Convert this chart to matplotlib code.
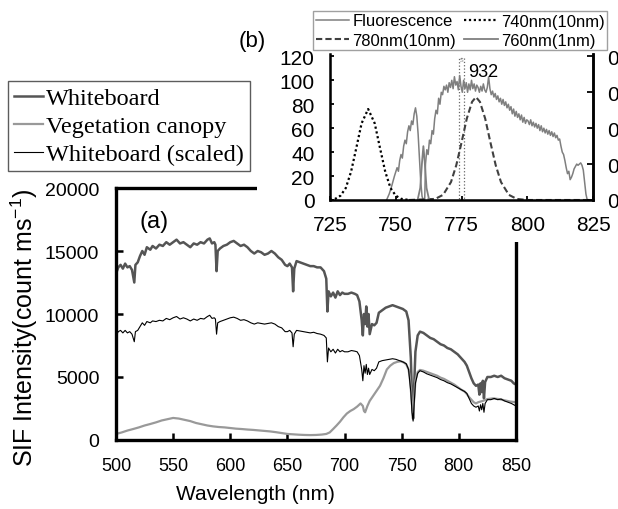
import matplotlib
matplotlib.use("Agg")
import matplotlib.pyplot as plt
from matplotlib.patches import Rectangle
import numpy as np

plt.rcParams['font.family'] = ['Liberation Sans', 'DejaVu Sans']
plt.rcParams['mathtext.default'] = 'regular'

# ---- main panel (a) data ----
wb_wl = [500, 502, 504, 506, 508, 510, 512, 514, 516, 517, 519, 521, 523, 525, 527, 530, 532, 535, 538, 541,
         544, 547, 550, 553, 556, 559, 562, 565, 568, 571, 574, 577, 580, 582, 584, 586, 587, 588, 589, 591,
         594, 597, 600, 603, 606, 609, 612, 615, 618, 621, 624, 627, 630, 633, 636, 639, 642, 645, 648, 650,
         652, 654, 655, 656, 658, 661, 664, 667, 670, 673, 676, 679, 682, 684, 685, 686, 688, 690, 692, 694,
         696, 698, 700, 703, 706, 709, 711, 713, 715, 716, 717, 718, 719, 720, 721, 722, 724, 726, 728, 730,
         733, 736, 739, 742, 745, 748, 751, 754, 756, 758, 759, 760, 761, 762, 764, 766, 769, 772, 775, 778,
         781, 784, 787, 790, 793, 796, 799, 802, 805, 807, 809, 811, 813, 815, 817, 818, 819, 820, 821, 822,
         823, 825, 828, 831, 834, 837, 840, 843, 846, 848, 850]
whiteboard = [13200, 13700, 13900, 13600, 14000, 13700, 13800, 13500, 12500, 13900, 14100, 14600, 15000, 14700,
              15300, 15100, 15400, 15200, 15500, 15400, 15700, 15500, 15700, 15900, 15600, 15700, 15500, 15300,
              15600, 15500, 15700, 15600, 15900, 16000, 15600, 15700, 15500, 13400, 15000, 15200, 15400, 15500,
              15700, 15800, 15600, 15400, 15500, 15300, 15000, 14800, 15000, 14900, 14700, 14800, 15000, 14800,
              14500, 14300, 13900, 13800, 14000, 13700, 11800, 13600, 14200, 14100, 14000, 13900, 13800, 13800,
              13700, 13700, 13400, 12800, 10200, 11800, 11400, 11700, 11300, 11800, 11500, 11700, 11600, 11600,
              11700, 11600, 11500, 11000, 9500, 8300, 10000, 9200, 10600, 9000, 10000, 8400, 9200, 9100, 9300,
              10100, 10300, 10500, 10600, 10700, 10600, 10500, 10400, 10200, 9500, 6500, 3500, 1700, 4500, 7000,
              8300, 8600, 8500, 8300, 8100, 8000, 7800, 7600, 7500, 7300, 7200, 7000, 6800, 6500, 6200, 5900,
              5400, 4900, 4500, 4300, 4400, 3600, 4500, 3800, 4700, 3300, 4600, 5000, 5000, 5100, 5000, 5100,
              4900, 4800, 4700, 4500, 4400]
whiteboard_scaled = [8260, 8600, 8700, 8500, 8700, 8500, 8600, 8400, 7800, 8600, 8700, 9000, 9300, 9100, 9400,
                     9300, 9450, 9400, 9500, 9450, 9650, 9550, 9700, 9800, 9600, 9700, 9600, 9450, 9600, 9500,
                     9650, 9600, 9800, 9900, 9650, 9700, 9600, 8400, 9300, 9400, 9500, 9600, 9700, 9750, 9650,
                     9500, 9550, 9450, 9300, 9200, 9300, 9250, 9200, 9250, 9300, 9200, 9000, 8900, 8600, 8600,
                     8700, 8500, 7400, 8400, 8700, 8650, 8600, 8550, 8500, 8550, 8450, 8400, 8300, 8100, 6200,
                     7300, 7000, 7200, 6900, 7200, 7000, 7100, 7000, 7000, 7100, 7050, 7000, 6700, 5600, 4700,
                     5900, 5300, 6000, 5200, 5700, 5200, 5600, 5500, 5700, 6200, 6300, 6350, 6400, 6450, 6400,
                     6300, 6200, 6050, 5600, 3800, 2200, 1500, 3000, 4500, 5300, 5500, 5400, 5250, 5150, 5050,
                     4950, 4800, 4700, 4550, 4450, 4300, 4150, 4000, 3850, 3700, 3300, 2900, 2700, 2600, 2700,
                     2300, 2800, 2400, 2900, 2200, 2900, 3200, 3200, 3300, 3200, 3250, 3100, 3000, 2900, 2800, 2700]
veg_wl = [500, 505, 510, 515, 520, 525, 530, 535, 540, 545, 550, 555, 560, 565, 570, 575, 580, 585, 590, 595,
          600, 605, 610, 615, 620, 625, 630, 635, 640, 645, 650, 655, 660, 665, 670, 675, 680, 684, 687, 690,
          693, 696, 699, 702, 705, 708, 711, 714, 716, 717, 718, 720, 722, 725, 728, 731, 734, 737, 740, 743,
          746, 749, 752, 754, 756, 757, 758, 759, 760, 761, 762, 764, 766, 769, 772, 775, 778, 781, 784, 787,
          790, 793, 796, 799, 802, 805, 807, 809, 811, 813, 815, 817, 819, 821, 825, 830, 835, 840, 845, 850]
vegetation = [480, 600, 750, 870, 1000, 1150, 1270, 1400, 1550, 1650, 1750, 1700, 1600, 1500, 1350, 1250, 1150,
              1080, 1030, 1000, 950, 900, 870, 830, 800, 760, 720, 680, 620, 550, 480, 450, 420, 400, 390, 400,
              430, 480, 600, 870, 1150, 1450, 1800, 2100, 2300, 2450, 2650, 2900, 2700, 2300, 2200, 2700, 3100,
              3500, 3900, 4300, 4900, 5600, 5900, 6100, 6200, 6250, 6150, 6000, 5600, 5000, 4000, 2800, 2200,
              3300, 4700, 5400, 5560, 5500, 5400, 5300, 5200, 5100, 4950, 4850, 4700, 4550, 4400, 4200, 4000,
              3850, 3650, 3400, 3200, 3000, 2900, 3000, 3050, 3100, 3250, 3300, 3250, 3150, 3050, 3000]

# ---- inset (b) data ----
fl_wl = [746.5, 747.5, 748.5, 749.5, 750.5, 751.0, 751.5, 752.0, 752.5, 753.0,
         753.5, 754.0, 754.5, 755.0, 755.5, 756.0, 756.5, 757.0, 757.5, 758.0,
         758.5, 759.0, 759.5, 760.0, 760.5, 761.0, 761.3, 761.8, 762.3, 762.8,
         763.3, 763.8, 764.3, 764.8, 765.3, 765.8, 766.3, 766.8, 767.3, 767.8,
         768.3, 768.8, 769.3, 769.8, 770.3, 770.8, 771.3, 771.8, 772.3, 772.8,
         773.3, 773.8, 774.3, 774.8, 775.3, 775.8, 776.3, 776.8, 777.3, 777.8,
         778.3, 778.8, 779.3, 779.8, 780.3, 780.8, 781.3, 781.8, 782.3, 782.8,
         783.3, 783.8, 784.3, 784.8, 785.3, 785.8, 786.3, 786.8, 787.3, 787.8,
         788.3, 788.8, 789.3, 789.8, 790.3, 790.8, 791.3, 791.8, 792.3, 792.8,
         793.3, 793.8, 794.3, 794.8, 795.3, 795.8, 796.3, 796.8, 797.3, 797.8,
         798.3, 798.8, 799.3, 799.8, 800.3, 800.8, 801.3, 801.8, 802.3, 802.8,
         803.3, 803.8, 804.3, 804.8, 805.3, 805.8, 806.3, 806.8, 807.3, 807.8,
         808.3, 808.8, 809.3, 809.8, 810.3, 810.8, 811.3, 811.8, 812.3, 812.8,
         813.3, 813.8, 814.3, 814.8, 815.3, 815.8, 816.3, 816.8, 817.3, 817.8,
         818.3, 818.8, 819.3, 819.8, 820.3, 820.8, 821.3, 821.8, 822.3, 822.8]
fluorescence = [0, 5, 12, 20, 27, 24, 33, 38, 35, 45,
                50, 47, 57, 62, 58, 66, 63, 72, 77, 70,
                55, 35, 15, 3, 0, 0, 30, 42, 38, 50,
                47, 58, 55, 68, 75, 72, 85, 80, 90, 88,
                95, 92, 96, 90, 98, 94, 100, 93, 103, 96,
                99, 92, 104, 95, 90, 100, 93, 98, 90, 97,
                92, 100, 93, 97, 91, 96, 94, 90, 95, 91,
                97, 92, 90, 94, 103, 93, 88, 91, 86, 89,
                84, 87, 82, 85, 80, 84, 79, 82, 77, 80,
                75, 78, 72, 76, 70, 74, 69, 72, 67, 71,
                65, 69, 64, 67, 66, 63, 67, 62, 65, 61,
                64, 60, 63, 58, 62, 57, 60, 56, 59, 55,
                58, 54, 57, 53, 56, 52, 54, 50, 51, 45,
                40, 38, 33, 27, 22, 24, 17, 19, 22, 26,
                28, 30, 29, 30, 31, 29, 25, 15, 5, 0]
f740_wl = [725, 727, 729, 731, 733, 735, 737, 739.5, 742, 744, 746, 748, 750, 752, 755]
f740 = [0, 1, 3.6, 10, 23.6, 43.5, 64, 76, 64, 43.5, 23.6, 10, 3.6, 1, 0]
f780_wl = [755, 765, 768, 771, 773, 775, 777, 779, 780.5, 782, 784, 786, 788, 790, 793, 796, 800, 825]
f780 = [0, 0.9, 4.3, 15, 29, 48, 68, 82, 86, 82, 68, 48, 29, 15, 4.3, 0.9, 0, 0]
f760_wl = [758.3, 759.3, 760, 760.5, 761, 761.7, 762.7]
f760 = [0, 10, 32, 45, 32, 10, 0]
# right-hand axis labels of the inset are cut by the figure edge; only "0" shows
right_ticks = [0, 0.2, 0.4, 0.6, 0.8]
right_labels = ['0', '0', '0', '0', '0']

fig = plt.figure(figsize=(6.18, 5.10), dpi=100)

# main axes
ax = fig.add_axes([0.1877, 0.1353, 0.6472, 0.4941])
ax.set_zorder(0)
l1, = ax.plot(wb_wl, whiteboard, color='#555555', lw=1.8, label='Whiteboard')
l2, = ax.plot(veg_wl, vegetation, color='#999999', lw=1.6, label='Vegetation canopy')
l3, = ax.plot(wb_wl, whiteboard_scaled, color='black', lw=0.8, label='Whiteboard (scaled)')
ax.set_xlim(500, 850)
ax.set_ylim(0, 20000)
ax.set_xticks(np.arange(500, 851, 50))
ax.set_yticks(np.arange(0, 20001, 5000))
ax.tick_params(direction='in', length=5, width=1.8, labelsize=13, pad=12)
ax.tick_params(axis='y', labelsize=14)
ax.tick_params(right=False, top=False)
for s in ax.spines.values():
    s.set_linewidth(2.4)
ax.text(0.095, 0.87, '(a)', transform=ax.transAxes, fontsize=17, ha='center', va='center')

fig.text(24 / 618, 1 - 328 / 510, 'SIF Intensity(count ms$^{-1}$)', rotation=90,
         fontsize=18, ha='center', va='center')
fig.text(255 / 618, 1 - 495 / 510, 'Wavelength (nm)', fontsize=15, ha='center', va='center')

leg = fig.legend(handles=[l1, l2, l3], loc='upper left', bbox_to_anchor=(8 / 618, 1 - 82 / 510),
                 prop={'family': 'Liberation Serif', 'size': 17.5}, frameon=True, fancybox=False,
                 handlelength=1.2, handletextpad=0.1, labelspacing=0.25, borderpad=0.25, borderaxespad=0)
leg.get_frame().set_edgecolor('#333333')
leg.get_frame().set_linewidth(1.0)

# white patch hiding the main frame behind the inset
fig.patches.append(Rectangle((257 / 618, 1 - 243 / 510), 1, 1, transform=fig.transFigure,
                             facecolor='white', edgecolor='none', zorder=0.5))

# inset axes
axb = fig.add_axes([0.534, 0.6059, 0.4256, 0.2863])
axb.set_zorder(1)
h1, = axb.plot(fl_wl, fluorescence, color='#7f7f7f', lw=1.1, label='Fluorescence')
h2, = axb.plot(f740_wl, f740, color='black', lw=1.6, ls=(0, (1, 1.2)), label='740nm(10nm)')
h3, = axb.plot(f780_wl, f780, color='#404040', lw=1.5, ls=(0, (3, 1.5)), label='780nm(10nm)')
h4, = axb.plot(f760_wl, f760, color='#7f7f7f', lw=1.3, label='760nm(1nm)')
axb.add_patch(Rectangle((774, 0), 1.8, 119, facecolor='none', edgecolor='#666666', lw=0.9, ls=':'))
axb.text(774.9, 117, 'S', fontsize=4, color='#888888', ha='center', va='center')
axb.text(777.5, 107, '932', fontsize=13, ha='left', va='center')
axb.set_xlim(725, 825)
axb.set_ylim(0, 122)
axb.set_xticks(np.arange(725, 826, 25))
axb.set_yticks(np.arange(0, 121, 20))
axb.tick_params(direction='in', length=3, width=1.3, labelsize=15, pad=11)
axb.spines['top'].set_visible(False)
for s in ['left', 'bottom', 'right']:
    axb.spines[s].set_linewidth(1.8)

axr = axb.twinx()
axr.set_ylim(0, 0.8 * 122 / 120)
axr.set_yticks(right_ticks)
axr.set_yticklabels(right_labels)
axr.tick_params(direction='in', length=4, width=1.3, labelsize=15, pad=10)
axr.spines['top'].set_visible(False)
axr.spines['right'].set_linewidth(1.8)

legb = fig.legend(handles=[h1, h3, h2, h4], ncol=2, loc='upper left',
                  bbox_to_anchor=(313 / 618, 1 - 12 / 510), fontsize=12, frameon=True, fancybox=False,
                  handlelength=2.0, handletextpad=0.2, columnspacing=0.5, labelspacing=0.25,
                  borderpad=0.15, borderaxespad=0)
legb.get_frame().set_edgecolor('#888888')
legb.get_frame().set_linewidth(1.0)
legb.set_zorder(5)

fig.text(252 / 618, 1 - 42 / 510, '(b)', fontsize=16, ha='center', va='center')

fig.savefig('out.png', dpi=100)
